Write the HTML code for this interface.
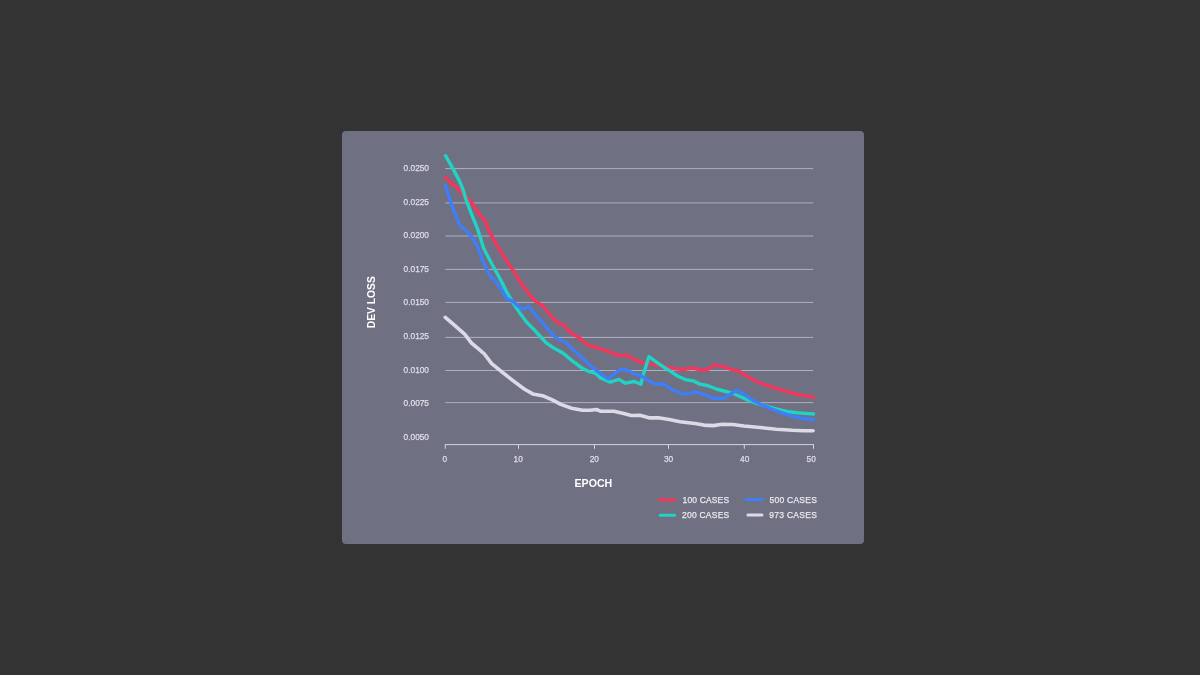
<!DOCTYPE html>
<html lang="en">
<head>
<meta charset="utf-8">
<title>Dev loss by epoch</title>
<style>
html,body{margin:0;padding:0;}
body{width:1200px;height:675px;background:#333333;overflow:hidden;position:relative;font-family:"Liberation Sans",sans-serif;}
.card{position:absolute;left:342px;top:131px;width:522px;height:413px;background:#6f7082;border-radius:4px;}
svg{position:absolute;left:0;top:0;}
.tick{font-size:8.3px;fill:#dfdfe9;stroke:#dfdfe9;stroke-width:0.25px;}
.title{font-size:10.6px;font-weight:bold;fill:#ffffff;}
.leg{font-size:8.5px;fill:#e9e9f0;stroke:#e9e9f0;stroke-width:0.25px;}
</style>
</head>
<body>
<div class="card"></div>
<svg width="1200" height="675" viewBox="0 0 1200 675" font-family="Liberation Sans, sans-serif">

<g stroke="#aeafc3" stroke-width="1" fill="none">
<line x1="445.3" y1="168.6" x2="813.2" y2="168.6"/>
<line x1="445.3" y1="202.9" x2="813.2" y2="202.9"/>
<line x1="445.3" y1="236.0" x2="813.2" y2="236.0"/>
<line x1="445.3" y1="269.4" x2="813.2" y2="269.4"/>
<line x1="445.3" y1="302.4" x2="813.2" y2="302.4"/>
<line x1="445.3" y1="337.4" x2="813.2" y2="337.4"/>
<line x1="445.3" y1="370.5" x2="813.2" y2="370.5"/>
<line x1="445.3" y1="402.6" x2="813.2" y2="402.6"/>
</g>
<g stroke="#d6d6e2" stroke-width="1" fill="none">
<line x1="444.8" y1="444.6" x2="814" y2="444.6"/>
<line x1="445.3" y1="444.6" x2="445.3" y2="448.8"/>
<line x1="518.5" y1="444.6" x2="518.5" y2="448.8"/>
<line x1="594.5" y1="444.6" x2="594.5" y2="448.8"/>
<line x1="668.5" y1="444.6" x2="668.5" y2="448.8"/>
<line x1="744.3" y1="444.6" x2="744.3" y2="448.8"/>
<line x1="813.5" y1="444.6" x2="813.5" y2="448.8"/>
</g>
<g class="tick" text-anchor="end">
<text x="429" y="170.95">0.0250</text>
<text x="429" y="204.55">0.0225</text>
<text x="429" y="238.15">0.0200</text>
<text x="429" y="271.75">0.0175</text>
<text x="429" y="305.35">0.0150</text>
<text x="429" y="338.95">0.0125</text>
<text x="429" y="372.55">0.0100</text>
<text x="429" y="406.15">0.0075</text>
<text x="429" y="439.75">0.0050</text>
</g>
<g class="tick" text-anchor="middle">
<text x="444.8" y="462.0">0</text>
<text x="518.2" y="462.0">10</text>
<text x="594.3" y="462.0">20</text>
<text x="668.5" y="462.0">30</text>
<text x="744.7" y="462.0">40</text>
<text x="811.2" y="462.0">50</text>
</g>
<text class="title" x="593.4" y="487" text-anchor="middle">EPOCH</text>
<text class="title" style="font-size:10.3px" text-anchor="middle" transform="translate(375.3 302.2) rotate(-90)">DEV LOSS</text>
<g fill="none" stroke-width="3.4" stroke-linecap="round" stroke-linejoin="round">
<polyline stroke="#dcdae6" stroke-width="3.6" points="445.3,317.3 454.1,324.9 464.9,334.3 471.4,343 477.9,348.3 484.4,354 491.7,363.6 502.5,372.3 513.3,380.9 524.2,389 532.8,393.9 543.7,396.1 552.3,399.9 560.8,404.4 571.7,408.2 582.5,410.3 590.1,410.2 596.4,409.5 600.9,411.3 613.9,411.2 623.7,413.6 631.3,415.5 639.9,415.2 649.7,417.9 658.3,417.7 669.2,419.5 680,421.7 695,423.5 703.7,425.1 713.4,425.6 722.1,424.2 732.9,424.5 743.8,426 760,427.5 776.3,429.2 792.5,430.3 803.3,430.7 813.1,430.7"/>
<polyline stroke="#f4355c" points="445.4,177.6 450.8,183 456.3,186.8 460,191.2 471.4,202 477.9,211.8 480.1,215 485.5,221.5 488.8,230.2 493.1,238.8 499.6,249.7 505,258.3 511.5,268.1 515.8,274.6 520.2,282.2 524.5,287.6 529.9,295.2 535.3,301.1 542.9,306 548.3,312.5 553.8,319 559.2,323.3 564.6,325.5 570,332 574,334.5 580,338.2 587.3,344.8 598.3,348 609.2,351.8 618.9,355.6 626.5,355 633,358.8 640.6,362.1 652.5,364.3 663.3,366.4 674.2,368.5 683.7,369.5 692.3,367.9 701,370 707.5,369.7 715.1,364.6 723.8,366.8 731.3,369.5 740,371.7 748.7,377.1 758.4,382.5 768.2,385.9 777.9,388.9 788.8,392.1 797.4,394.3 805,395.9 813.6,397.3"/>
<polyline stroke="#1fd4c4" points="445.5,155.7 452.8,168.4 459.3,180.6 462.8,189 466.5,200.9 471.4,213.9 476.8,226.9 480.1,236.7 483.3,247.5 488.8,258.3 495.3,270.3 500.7,280 506.1,290.8 513.7,303.8 520.2,313.6 526.7,322.3 534.3,329.8 540.8,337 546.2,342.8 553.4,347.8 563.2,353.3 572.9,361.4 582.7,368.5 589.2,371.7 595.7,373.3 600.5,378 610.3,382.1 618.9,379.4 625.4,383.2 634.1,381.5 641,384.2 643,375.5 649,356.6 657.9,363.2 668.8,370.2 677.4,376 685.8,379.8 693.4,380.9 699.9,384.1 707.5,385.5 716.2,389 723.8,391 731.3,392.8 738.9,396 748.7,400.4 757.3,403.6 767.1,406.3 777.9,409.4 788.8,411.8 797.4,412.8 805,413.4 813.6,414"/>
<polyline stroke="#3f7ef7" points="445.5,185.2 448.6,195.5 452.6,207.4 456.4,216.8 460,225.8 467.1,231.8 472.5,237.8 477.4,246.4 481.7,258.3 486.6,269.2 490.4,276.2 496.3,282.2 500.7,288.4 506.1,298.4 512.6,301.1 518,306 522.9,309.3 528.8,306.5 535.3,314.7 542.9,323.3 550.5,332 556.7,338.5 565.5,342 572.9,349.5 580.5,356 589.2,364.5 598.3,371.8 608.2,379 619.6,369.6 626.5,369.8 633,373.5 641.7,376.2 648.2,380.5 655.8,384.3 663.3,383.8 672,389.5 679.6,393 684.8,394.4 695.6,392 704.3,394.4 712.9,398.2 723.8,398.2 729.2,395 736.8,389.9 744.3,394.4 753,400.4 761.7,404.7 772.5,409.4 783.3,413.4 794.2,416.6 805,418.8 813.6,419.7"/>
</g>
<g fill="none" stroke-width="3" stroke-linecap="round">
<line stroke="#f4355c" x1="659.2" y1="499.7" x2="674.6" y2="499.7"/>
<line stroke="#1fd4c4" x1="660.2" y1="515.2" x2="674.6" y2="515.2"/>
<line stroke="#3f7ef7" x1="746" y1="499.5" x2="762.7" y2="499.5"/>
<line stroke="#dcdae6" x1="747.9" y1="514.9" x2="762" y2="514.9"/>
</g>
<g class="leg">
<text x="682.5" y="503.1" textLength="46.6" lengthAdjust="spacing">100 CASES</text>
<text x="682" y="518.4" textLength="47.2" lengthAdjust="spacing">200 CASES</text>
<text x="769.5" y="503.1" textLength="47.3" lengthAdjust="spacing">500 CASES</text>
<text x="769.2" y="518.2" textLength="47.6" lengthAdjust="spacing">973 CASES</text>
</g>
</svg>
</body>
</html>
